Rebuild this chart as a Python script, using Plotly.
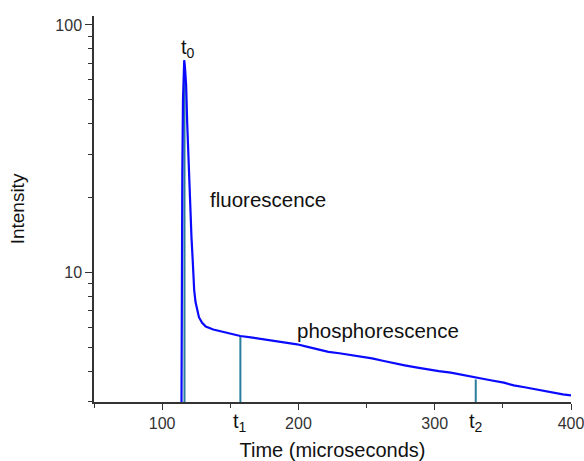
import plotly.graph_objects as go

# Emission decay trace (time in microseconds, intensity on a log scale)
time_us = [113.9, 114.3, 114.8, 115.3, 115.8, 116.2, 116.7, 117.6, 118.4, 119.2,
           120.0, 120.6, 121.5, 122.5, 123.5, 124.5, 125.5, 127.0, 129.2, 132.0,
           137.5, 145.0, 154.9, 157.4, 165.0, 172.0, 181.6, 190.0, 199.0, 206.0,
           213.8, 222.0, 230.0, 238.0, 245.6, 254.0, 262.7, 270.0, 278.0, 287.3,
           295.0, 303.0, 311.8, 320.0, 330.1, 340.0, 350.7, 358.0, 366.0, 373.0,
           380.4, 388.0, 394.0, 400.0]
intensity = [1.0, 8.0, 25.0, 50.0, 70.0, 72.0, 68.0, 57.0, 40.0, 29.0,
             22.0, 18.0, 14.0, 11.0, 8.5, 7.6, 7.1, 6.6, 6.28, 6.05,
             5.89, 5.75, 5.60, 5.54, 5.47, 5.40, 5.28, 5.22, 5.13, 5.02,
             4.90, 4.78, 4.72, 4.65, 4.59, 4.50, 4.39, 4.30, 4.22, 4.13,
             4.06, 4.00, 3.94, 3.86, 3.75, 3.68, 3.59, 3.50, 3.44, 3.38,
             3.32, 3.26, 3.22, 3.19]

# Gate markers t0, t1, t2: time and the intensity they reach
marker_names = ["t<sub>0</sub>", "t<sub>1</sub>", "t<sub>2</sub>"]
marker_times = [116.4, 157.4, 330.1]
marker_levels = [60.0, 5.54, 3.70]
axis_floor = 2.9

x_major = [100, 200, 300, 400]
x_minor = [50, 150, 250, 350]
y_major = [10, 100]
y_minor = [3, 4, 5, 6, 7, 8, 9, 20, 30, 40, 50, 60, 70, 80, 90]

font_family = "Liberation Sans, Arial, sans-serif"
axis_color = "#333333"
marker_color = "#2a7d9c"

fig = go.Figure()

for t, lvl in zip(marker_times, marker_levels):
    fig.add_trace(go.Scatter(x=[t, t], y=[axis_floor, lvl], mode="lines",
                             line=dict(color=marker_color, width=2),
                             hoverinfo="skip", showlegend=False))

fig.add_trace(go.Scatter(x=time_us, y=intensity, mode="lines",
                         line=dict(color="#0a0aff", width=2.2),
                         showlegend=False))

# t0 above the peak, t1/t2 under the time axis
fig.add_annotation(x=marker_times[0] + 2.5, y=1.905, xref="x", yref="y",
                   text=marker_names[0], showarrow=False,
                   font=dict(size=20, color="#111111", family=font_family))
for name, t in zip(marker_names[1:], marker_times[1:]):
    fig.add_annotation(x=t, y=0, xref="x", yref="paper", text=name,
                       showarrow=False, yanchor="top", yshift=-6,
                       font=dict(size=20, color="#111111", family=font_family))

fig.add_annotation(x=133.5, y=1.294, xref="x", yref="y", text="fluorescence",
                   showarrow=False, xanchor="left",
                   font=dict(size=20.5, color="#111111", family=font_family))
fig.add_annotation(x=197.5, y=0.765, xref="x", yref="y", text="phosphorescence",
                   showarrow=False, xanchor="left",
                   font=dict(size=20.5, color="#111111", family=font_family))

fig.update_layout(
    width=584, height=461,
    margin=dict(l=94, r=13, t=16, b=59),
    plot_bgcolor="white", paper_bgcolor="white",
    font=dict(family=font_family, color=axis_color),
    showlegend=False,
)
fig.update_xaxes(
    range=[50, 400], showgrid=False, zeroline=False, automargin=False,
    ticklabeloverflow="allow",
    showline=True, linecolor=axis_color, linewidth=1.5,
    tickmode="array", tickvals=x_major, ticktext=[str(v) for v in x_major],
    ticks="outside", ticklen=6, tickwidth=1.3, tickcolor=axis_color,
    tickfont=dict(size=16, color="#333333"),
    minor=dict(tickmode="array", tickvals=x_minor, ticks="outside",
               ticklen=4, tickwidth=1.2, tickcolor=axis_color, showgrid=False),
    title=dict(text="Time (microseconds)", font=dict(size=20, color="#111111"),
               standoff=12),
)
fig.update_yaxes(
    type="log", range=[0.4771, 2.036], showgrid=False, zeroline=False,
    automargin=False, ticklabeloverflow="allow",
    showline=True, linecolor=axis_color, linewidth=1.5,
    tickmode="array", tickvals=y_major, ticktext=["10", "100"],
    ticks="outside", ticklen=7, tickwidth=1.3, tickcolor=axis_color,
    tickfont=dict(size=16, color="#333333"),
    minor=dict(tickmode="array", tickvals=y_minor, ticks="outside",
               ticklen=4, tickwidth=1.2, tickcolor=axis_color, showgrid=False),
    title=dict(text="Intensity", font=dict(size=19, color="#111111"), standoff=26),
)

fig.write_html("out.html")
